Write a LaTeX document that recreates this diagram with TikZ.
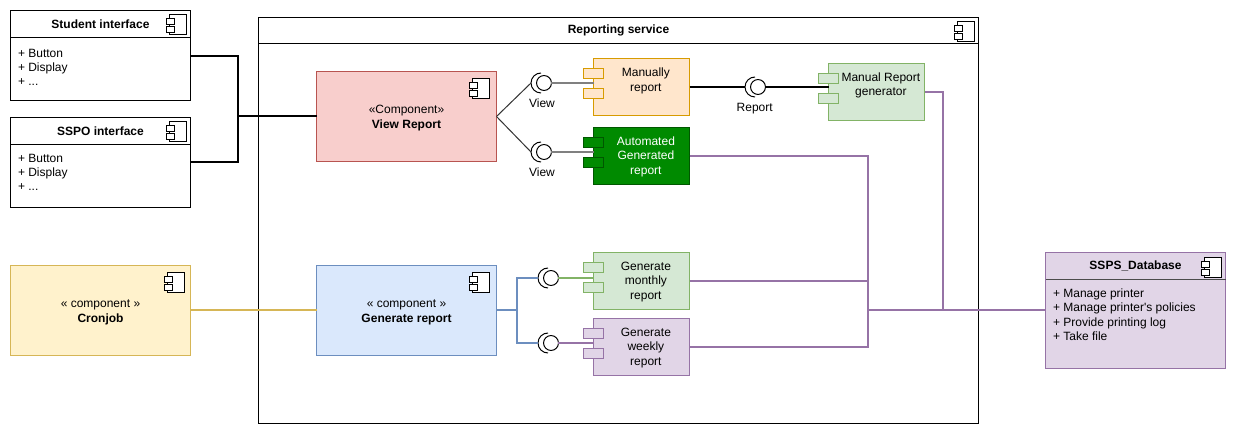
\documentclass[tikz,border=0pt]{standalone}
\usepackage{fontspec}
\setmainfont{Liberation Sans}
\usepackage{xcolor}
\usetikzlibrary{positioning,calc}
\definecolor{redfill}{HTML}{F8CECC}
\definecolor{redline}{HTML}{B85450}
\definecolor{bluefill}{HTML}{DAE8FC}
\definecolor{blueline}{HTML}{6C8EBF}
\definecolor{yellowfill}{HTML}{FFF2CC}
\definecolor{yellowline}{HTML}{D6B656}
\definecolor{orangefill}{HTML}{FFE6CC}
\definecolor{orangeline}{HTML}{D79B00}
\definecolor{greenfill}{HTML}{D5E8D4}
\definecolor{greenline}{HTML}{82B366}
\definecolor{purplefill}{HTML}{E1D5E7}
\definecolor{purpleline}{HTML}{9673A6}
\definecolor{darkfill}{HTML}{008A00}
\definecolor{darkline}{HTML}{005700}
\tikzset{
    every node/.style={font=\fontsize{9}{10.9}\selectfont, inner sep=0pt, outer sep=0pt},
    classhead/.style={rectangle, draw, fill=white, minimum width=135pt, minimum height=19.9pt, font=\fontsize{9}{10.9}\selectfont\bfseries},
    classbody/.style={rectangle, draw, fill=white, minimum width=135pt, minimum height=47.6pt},
    listtext/.style={anchor=north west, align=left, font=\fontsize{9}{10.5}\selectfont},
    bigbox/.style={rectangle, draw, minimum width=135pt, minimum height=67.5pt},
    bigtext/.style={align=center, font=\fontsize{9}{11.25}\selectfont, yshift=-1.2pt},
    compbox/.style={rectangle, draw, minimum width=72pt, minimum height=42.75pt},
    comptext/.style={align=center, xshift=3.3pt, yshift=-0.5pt},
    tabbox/.style={rectangle, draw, minimum width=15pt, minimum height=7.5pt},
    orangebox/.style={draw=orangeline, fill=orangefill},
    greenbox/.style={draw=greenline, fill=greenfill},
    purplebox/.style={draw=purpleline, fill=purplefill},
    darkbox/.style={draw=darkline, fill=darkfill},
    socket/.style={circle, draw, fill=white, minimum size=11.2pt},
    socket arc/.style={draw, line width=0.75pt},
    ui link/.style={line width=1.5pt, black},
    thin link/.style={line width=0.75pt, black!80},
    grey link/.style={line width=1.5pt, black!50},
    cron link/.style={line width=1.5pt, yellowline},
    gen link/.style={line width=1.5pt, blueline},
    db link/.style={line width=1.5pt, purpleline},
    comp icon/.pic={
        \draw[line width=0.75pt, fill=white] (-21,4) rectangle (-4,24);
        \draw[line width=0.75pt, fill=white] (-24,8) rectangle (-16,14);
        \draw[line width=0.75pt, fill=white] (-24,16) rectangle (-16,22);
    }
}

\begin{document}
\begin{tikzpicture}[x=0.75pt, y=-0.75pt, line width=0.75pt]
    \useasboundingbox (0,0) rectangle (1237,434);

    % Reporting service container
    \node[classhead, minimum width=540pt, minimum height=19.5pt] (service) at (618.5,30.5) {Reporting service};
    \node[classbody, minimum width=540pt, minimum height=285pt, below=0pt of service] (servicebody) {};
    \pic at (service.north east) {comp icon};

    % Left interfaces
    \node[classhead, minimum height=20.25pt] (student) at (100.5,24.5) {Student interface};
    \node[classbody, minimum height=47.25pt, below=0pt of student] (studentbody) {};
    \node[listtext] at ($(studentbody.north west)+(7.5,11)$) {+ Button\\+ Display\\+ ...};
    \pic at (student.north east) {comp icon};

    \node[classhead] (sspo) at (100.5,130.75) {SSPO interface};
    \node[classbody, below=0pt of sspo] (sspobody) {};
    \node[listtext] at ($(sspobody.north west)+(7.5,10.5)$) {+ Button\\+ Display\\+ ...};
    \pic at (sspo.north east) {comp icon};

    \node[bigbox, draw=yellowline, fill=yellowfill, label={[bigtext]center:« component »\\\textbf{Cronjob}}] (cron) at (100.5,310.5) {};
    \pic at ($(cron.north east)+(-2,3)$) {comp icon};

    % Main components
    \node[bigbox, draw=redline, fill=redfill, label={[bigtext]center:«Component»\\\textbf{View Report}}] (view) at (406.5,116.5) {};
    \pic at ($(view.north east)+(-3,3)$) {comp icon};
    \node[bigbox, draw=blueline, fill=bluefill, label={[bigtext]center:« component »\\\textbf{Generate report}}] (generate) at (406.5,310.5) {};
    \pic at ($(generate.north east)+(-3,3)$) {comp icon};

    % Report components, text moved clear of the tabs
    \node[compbox, orangebox, label={[comptext, yshift=0.5pt]center:Manually\\report\\\ }] (manual) at (641.5,87) {};
    \node[compbox, darkbox, label={[comptext, text=white]center:Automated\\Generated\\report}] (auto) at (641.5,156) {};
    \node[compbox, greenbox, label={[comptext, yshift=1pt]center:Manual Report\\generator\\\ }] (mangen) at (876.5,92) {};
    \node[compbox, greenbox, label={[comptext]center:Generate\\monthly\\report}] (monthly) at (641.5,281) {};
    \node[compbox, purplebox, label={[comptext]center:Generate\\weekly\\report}] (weekly) at (641.5,347) {};
    \foreach \comp/\sty in {manual/orangebox, auto/darkbox, mangen/greenbox, monthly/greenbox, weekly/purplebox} {
        \node[tabbox, \sty] at ($(\comp.west)+(0,-13.5)$) {};
        \node[tabbox, \sty] at ($(\comp.west)+(0,6.5)$) {};
    }

    % Database
    \node[classhead, draw=purpleline, fill=purplefill] (database) at (1135.5,265.75) {SSPS\_Database};
    \node[classbody, draw=purpleline, fill=purplefill, minimum height=67.1pt, below=0pt of database] (databasebody) {};
    \draw[black!70] (database.south west) -- (database.south east);
    \node[listtext, font=\fontsize{9}{10.9}\selectfont] at ($(databasebody.north west)+(7.5,9.5)$) {+ Manage printer\\+ Manage printer\textquotesingle s policies\\+ Provide printing log\\+ Take file};
    \pic at ($(database.north east)+(0,1.5)$) {comp icon};

    % Sockets
    \node[socket] (viewone) at (544,83) {};
    \node[socket] (viewtwo) at (544,152) {};
    \node[socket] (month) at (551,278) {};
    \node[socket] (week) at (551,343) {};
    \node[socket] (rep) at (758,87) {};
    \node[below=6.5pt of viewone, xshift=-1.5pt] (viewlabelone) {View};
    \node[below=6.5pt of viewtwo, xshift=-1.5pt] (viewlabeltwo) {View};
    \node[below=6.5pt of rep, xshift=-2.5pt] (replabel) {Report};
    \foreach \s in {viewone,viewtwo,month,week,rep} {
        \draw[socket arc] ($(\s)+(-3,10)$) arc (90:270:10);
        \coordinate (\s-in) at ($(\s)+(-13,0)$);
    }

    % Connectors
    \coordinate (student-out) at (190.5,56);
    \coordinate (sspo-out) at (190.5,162);
    \coordinate (ui-hub) at (238,116.5);
    \draw[ui link] (student-out) -| (ui-hub);
    \draw[ui link] (sspo-out) -| (ui-hub);
    \draw[ui link] (ui-hub) -- (view.west);
    \draw[cron link] (cron.east) -- (generate.west);

    \draw[thin link] (view.east) -- (viewone-in);
    \draw[thin link] (view.east) -- (viewtwo-in);
    \draw[grey link] (viewone.east) -- (manual.west |- viewone);
    \draw[grey link] (viewtwo.east) -- (auto.west |- viewtwo);
    \draw[ui link] (manual.east) -- (rep-in);
    \draw[ui link] (rep.east) -- (mangen.west |- rep);

    \coordinate (split) at (516.5,310.5);
    \draw[gen link] (generate.east) -- (split);
    \draw[gen link] (split) |- (month-in);
    \draw[gen link] (split) |- (week-in);
    \draw[line width=1.5pt, greenline] (month.east) -- (monthly.west |- month);
    \draw[line width=1.5pt, purpleline] (week.east) -- (weekly.west |- week);

    \coordinate (db-hub) at (867.5,310.5);
    \coordinate (gen-hub) at (943,310.5);
    \draw[db link] (auto.east) -| (db-hub);
    \draw[db link] (monthly.east) -| (db-hub);
    \draw[db link] (weekly.east) -| (db-hub);
    \draw[db link] (mangen.east) -| (gen-hub);
    \draw[db link] (db-hub) -- (databasebody.west |- db-hub);
\end{tikzpicture}
\end{document}
